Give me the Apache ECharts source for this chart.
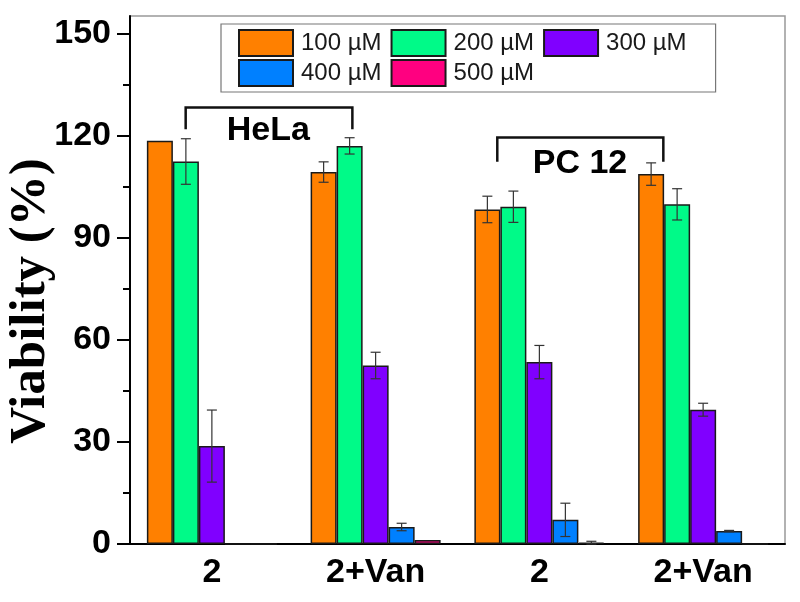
<!DOCTYPE html>
<html>
<head>
<meta charset="utf-8">
<script src="https://cdn.jsdelivr.net/npm/echarts@6/dist/echarts.min.js"></script>
<style>
  html, body { margin: 0; padding: 0; background: #fff; }
  #main { width: 800px; height: 602px; }
</style>
</head>
<body>
<div id="main"></div>
<script>
  // data
  var categories = ['2', '2+Van', '2', '2+Van'];
  var seriesNames = ['100 µM', '200 µM', '300 µM', '400 µM', '500 µM'];
  var v100 = [118.6, 109.4, 98.4, 108.8];
  var v200 = [112.5, 117.1, 99.2, 99.9];
  var v300 = [28.8, 52.5, 53.5, 39.5];
  var v400 = [0, 5.0, 7.1, 3.8];
  var v500 = [0, 1.2, 0.4, 0];
  var e100 = [0, 3.0, 3.9, 3.3];
  var e200 = [6.7, 2.4, 4.6, 4.6];
  var e300 = [10.6, 3.9, 4.9, 1.9];
  var e400 = [0, 1.1, 4.9, 0.2];
  var e500 = [0, 0, 0.4, 0];
  var yTicks = [0, 30, 60, 90, 120, 150];
  var yMinorTicks = [15, 45, 75, 105, 135];
  var yTitle = 'Viability (%)';

  // cell line brackets (x in category units, y in %)
  var groupLabels = ['HeLa', 'PC 12'];
  var bracketFrom = [-0.16, 1.743];
  var bracketTo = [0.858, 2.757];
  var bracketTop = [128.4, 119.6];
  var bracketFoot = [122.0, 112.4];
  var labelAt = [0.345, 2.248];
  var labelValue = [121.6, 112.0];

  var values = [v100, v200, v300, v400, v500];
  var errors = [e100, e200, e300, e400, e500];
  var colors = ['#FF8000', '#00FA88', '#8000FF', '#0080FF', '#FF0080'];
  var barW = 26;

  var series = [];
  for (var i = 0; i < values.length; i++) {
    series.push({
      name: seriesNames[i],
      type: 'bar',
      barWidth: barW,
      barGap: '0%',
      itemStyle: { color: colors[i], borderColor: '#1a1a1a', borderWidth: 1.5 },
      data: values[i]
    });
  }
  for (var k = 0; k < values.length; k++) {
    (function (idx) {
      series.push({
        type: 'custom',
        z: 5,
        silent: true,
        data: values[idx].map(function (v, c) { return [c, v, errors[idx][c]]; }),
        renderItem: function (params, api) {
          var e = api.value(2);
          if (!e) return;
          var c = api.value(0), v = api.value(1);
          var x = api.coord([c, v])[0] + (idx - 2) * barW;
          var yt = api.coord([c, v + e])[1];
          var yb = api.coord([c, Math.max(v - e, 0)])[1];
          var st = { stroke: '#333', lineWidth: 1.2 };
          return {
            type: 'group',
            children: [
              { type: 'line', shape: { x1: x, y1: yt, x2: x, y2: yb }, style: st },
              { type: 'line', shape: { x1: x - 5, y1: yt, x2: x + 5, y2: yt }, style: st },
              { type: 'line', shape: { x1: x - 5, y1: yb, x2: x + 5, y2: yb }, style: st }
            ]
          };
        }
      });
    })(k);
  }
  series.push({
    type: 'custom',
    xAxisIndex: 1,
    silent: true,
    z: 6,
    data: groupLabels.map(function (g, i) { return [bracketFrom[i], bracketTop[i]]; }),
    renderItem: function (params, api) {
      var i = params.dataIndex;
      var l = api.coord([bracketFrom[i], bracketTop[i]]);
      var r = api.coord([bracketTo[i], bracketTop[i]]);
      var foot = api.coord([bracketFrom[i], bracketFoot[i]])[1];
      var t = api.coord([labelAt[i], labelValue[i]]);
      return {
        type: 'group',
        children: [
          {
            type: 'polyline',
            shape: { points: [[l[0], foot], [l[0], l[1]], [r[0], r[1]], [r[0], foot]] },
            style: { stroke: '#111', lineWidth: 2.5, fill: null }
          },
          {
            type: 'text',
            x: t[0], y: t[1],
            style: {
              text: groupLabels[i], fill: '#000',
              font: 'bold 34px "Liberation Sans", Arial, sans-serif',
              align: 'center', verticalAlign: 'middle'
            }
          }
        ]
      };
    }
  });

  var legendText = { fontSize: 24, fontFamily: '"Liberation Sans", Arial, sans-serif', color: '#1a1a1a', padding: [0, 0, 0, 3] };

  var chart = echarts.init(document.getElementById('main'));
  chart.setOption({
    animation: false,
    color: colors,
    grid: {
      left: 130, right: 15, top: 16, bottom: 58,
      show: true, borderColor: '#999', borderWidth: 1.5,
      outerBoundsMode: 'none'
    },
    graphic: [{
      type: 'text',
      x: 31, y: 301,
      rotation: Math.PI / 2,
      style: {
        text: yTitle, fill: '#000',
        font: 'bold 51px "Liberation Serif", "Times New Roman", serif',
        align: 'center', verticalAlign: 'middle'
      }
    }],
    // two rows of the legend; the first one carries the frame
    legend: [{
      data: seriesNames.slice(0, 3),
      left: 221, top: 24,
      selectedMode: false,
      icon: 'rect',
      itemWidth: 54, itemHeight: 26, itemGap: 9,
      padding: [5, 29, 35, 17],
      borderColor: '#777', borderWidth: 1.2,
      textStyle: legendText
    }, {
      data: seriesNames.slice(3),
      left: 221, top: 59,
      selectedMode: false,
      icon: 'rect',
      itemWidth: 54, itemHeight: 26, itemGap: 9,
      padding: [0, 0, 0, 17],
      textStyle: legendText
    }],
    xAxis: [{
      type: 'category',
      data: categories,
      axisLine: { onZero: false, lineStyle: { color: '#000', width: 2 } },
      axisTick: { alignWithLabel: true, length: 10, lineStyle: { color: '#000', width: 2 } },
      axisLabel: { fontSize: 34, fontWeight: 'bold', color: '#000', margin: 12, fontFamily: '"Liberation Sans", Arial, sans-serif' },
      splitLine: { show: false }
    }, {
      type: 'value', min: -0.5, max: 3.5, show: false
    }],
    yAxis: [{
      type: 'value', min: 0, max: 155.3,
      axisLine: { show: true, onZero: false, lineStyle: { color: '#000', width: 2 } },
      axisTick: { show: true, length: 13, customValues: yTicks, lineStyle: { color: '#000', width: 2 } },
      axisLabel: { fontSize: 34, fontWeight: 'bold', color: '#000', margin: 19, customValues: yTicks, fontFamily: '"Liberation Sans", Arial, sans-serif' },
      splitLine: { show: false }
    }, {
      type: 'value', min: 0, max: 155.3, position: 'left',
      axisLine: { show: false, onZero: false },
      axisTick: { show: true, length: 7, customValues: yMinorTicks, lineStyle: { color: '#000', width: 2 } },
      axisLabel: { show: false },
      splitLine: { show: false }
    }],
    series: series
  });
</script>
</body>
</html>
